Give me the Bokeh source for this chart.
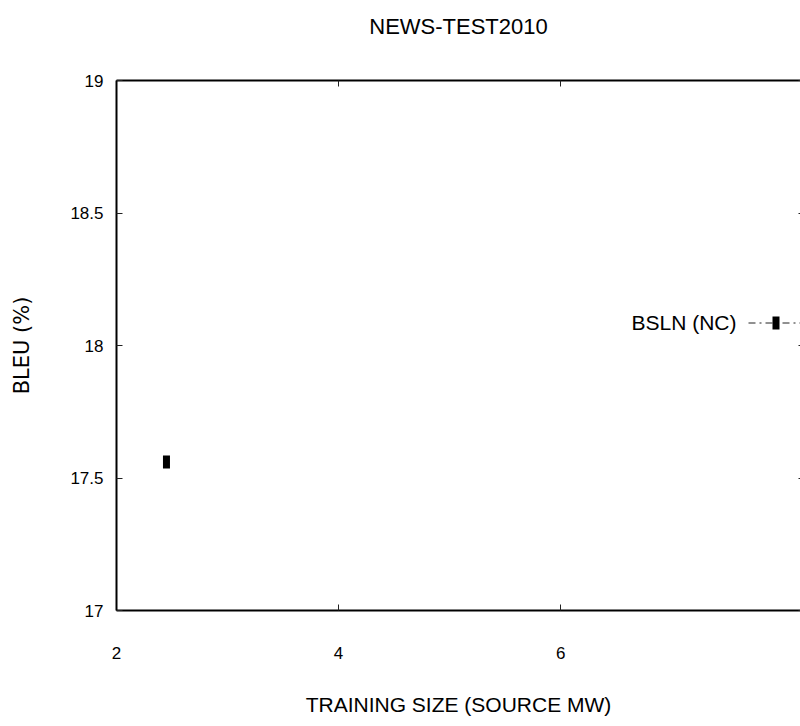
from bokeh.embed import file_html
from bokeh.models import Arrow, BoxAnnotation, FixedTicker, Label, LinearAxis, Range1d
from bokeh.plotting import figure
from bokeh.resources import INLINE

# ---- data -------------------------------------------------------------
title_text = "NEWS-TEST2010"
x_title = "TRAINING SIZE (SOURCE MW)"
y_title = "BLEU (%)"
series_name = "BSLN (NC)"

training_size = [2.45]      # source words, millions
bleu_score = [17.56]        # BLEU, %

x_ticks = [2, 4, 6]
x_tick_labels = ["2", "4", "6"]
y_ticks = [17, 17.5, 18, 18.5, 19]
y_tick_labels = ["17", "17.5", "18", "18.5", "19"]

# ---- style ------------------------------------------------------------
SANS = "Liberation Sans"
WIDE = "DejaVu Sans"
INK = "black"
DASH = "7 4 2 4"

p = figure(width=800, height=726, output_backend="svg", toolbar_location=None,
           x_range=Range1d(2, 8.16), y_range=Range1d(17, 19),
           min_border_left=116, min_border_right=0,
           min_border_top=80, min_border_bottom=116)
p.outline_line_color = None
p.xgrid.visible = False
p.ygrid.visible = False
p.background_fill_color = "white"
p.border_fill_color = "white"


def style_axis(ax, ticks, labels=None):
    ax.ticker = FixedTicker(ticks=ticks)
    ax.major_tick_in = 6
    ax.major_tick_out = 0
    ax.minor_tick_in = 0
    ax.minor_tick_out = 0
    ax.major_tick_line_color = "#222222"
    ax.major_tick_line_width = 1
    ax.axis_line_color = INK
    ax.axis_line_width = 2
    if labels is None:
        # tick marks only, no numbers on the mirrored sides
        ax.major_label_text_color = None
        ax.major_label_text_font_size = "0px"
        ax.major_label_standoff = 0
    else:
        ax.major_label_overrides = dict(zip(ticks, labels))
        ax.major_label_text_font = SANS
        ax.major_label_text_font_size = "17px"
        ax.major_label_text_color = INK


xa = p.xaxis[0]
style_axis(xa, x_ticks, x_tick_labels)
xa.major_label_standoff = 36
xa.axis_label = x_title
xa.axis_label_standoff = 31
xa.axis_label_text_font = SANS
xa.axis_label_text_font_size = "21px"
xa.axis_label_text_font_style = "normal"
xa.axis_label_text_color = INK

ya = p.yaxis[0]
style_axis(ya, y_ticks, y_tick_labels)
ya.major_label_standoff = 13
ya.axis_label = y_title
ya.axis_label_standoff = 33
ya.axis_label_text_font = WIDE
ya.axis_label_text_font_size = "21px"
ya.axis_label_text_font_style = "normal"
ya.axis_label_text_color = INK

# mirrored top border carries the chart heading above it
top_axis = LinearAxis()
style_axis(top_axis, x_ticks)
top_axis.axis_label = title_text
top_axis.axis_label_standoff = 42
top_axis.axis_label_text_font = SANS
top_axis.axis_label_text_font_size = "22px"
top_axis.axis_label_text_font_style = "normal"
top_axis.axis_label_text_color = INK
p.add_layout(top_axis, "above")

right_axis = LinearAxis()
style_axis(right_axis, y_ticks)
right_axis.axis_line_color = None
right_axis.major_tick_in = 2
p.add_layout(right_axis, "right")

# ---- series -----------------------------------------------------------
p.line(training_size, bleu_score, line_color=INK, line_width=1, line_dash=DASH)
p.rect(training_size, bleu_score, width=7, height=13,
       width_units="screen", height_units="screen",
       fill_color=INK, line_color=None)

# ---- key (label on the left, sample on the right) ---------------------
p.add_layout(Label(x=736, y=322, x_units="canvas", y_units="canvas",
                   text=series_name, text_align="right", text_baseline="middle",
                   text_font=SANS, text_font_size="21px", text_color=INK))
p.add_layout(Arrow(start=None, end=None, x_start=748, y_start=322.5,
                   x_end=800, y_end=322.5, start_units="canvas",
                   end_units="canvas", line_color="#222222", line_width=1,
                   line_dash=DASH))
p.add_layout(BoxAnnotation(left=772, right=779, top=316, bottom=329,
                           left_units="canvas", right_units="canvas",
                           top_units="canvas", bottom_units="canvas",
                           fill_color=INK, fill_alpha=1, line_color=None))

with open("out.html", "w") as f:
    f.write(file_html(p, INLINE))
